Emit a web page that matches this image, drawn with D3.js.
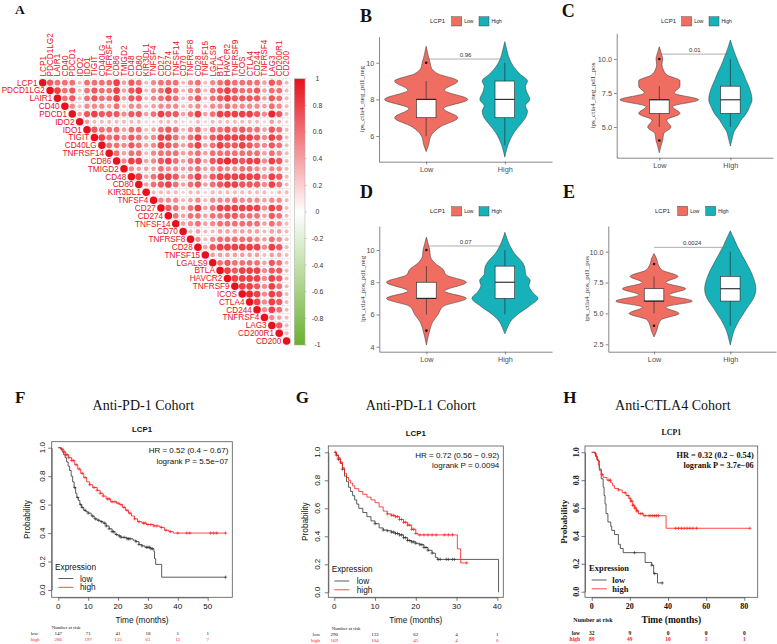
<!DOCTYPE html>
<html>
<head>
<meta charset="utf-8">
<script src="https://cdnjs.cloudflare.com/ajax/libs/d3/7.8.5/d3.min.js"></script>
<style>
body{margin:0;background:#fff}
svg{display:block}
</style>
</head>
<body>
<div id="chart"></div>
<script>
var sans = "'Liberation Sans', Arial, Helvetica, sans-serif";
var serif = "'Liberation Serif', 'Times New Roman', serif";

// ---------- A: correlation matrix ----------
var genes = ["LCP1","PDCD1LG2","LAIR1","CD40","PDCD1","IDO2","IDO1","TIGIT","CD40LG","TNFRSF14",
  "CD86","TMIGD2","CD48","CD80","KIR3DL1","TNFSF4","CD27","CD274","TNFSF14","CD70","TNFRSF8",
  "CD28","TNFSF15","LGALS9","BTLA","HAVCR2","TNFRSF9","ICOS","CTLA4","CD244","TNFRSF4","LAG3",
  "CD200R1","CD200"];
// upper triangle, right of the diagonal; each digit = r x 10
var corrRows = [
  "766636666847635666356356766664763",
  "86736766847835686356367876674663",
  "6736766847735676357367877774763",
  "535554635534555345355655554653",
  "47877757746877468468888875973",
  "4333333322333223233333332432",
  "766646634676356366767664763",
  "86757645886468478888875873",
  "6657645876468468778765763",
  "646635666456466666664653",
  "58845786467478987885873",
  "5444655456456556654553",
  "846887468478888885873",
  "46786467467887775863",
  "3333233233333333233",
  "555345355565554553",
  "76468468888885873",
  "6466466776664763",
  "456456666664653",
  "34334444443443",
  "5356666654653",
  "478888885873",
  "44444443443",
  "6766664763",
  "878885773",
  "88885873",
  "8875863",
  "985873",
  "85873",
  "5863",
  "543",
  "73",
  "3",
  ""
];
var legendTicks = [1, 0.8, 0.6, 0.4, 0.2, 0, -0.2, -0.4, -0.6, -0.8, -1];

// ---------- B-E: violins ----------
var groups = ["Low", "High"];
var violinColors = ["#EF6D61", "#17B1BA"];
// [value, relative density]
var densB = [
  [[5.15,0],[5.5,.07],[6,.14],[6.5,.42],[7,.95],[7.5,.52],[8,1.25],[8.5,.55],[9,.95],[9.4,.35],[9.7,.16],[10,.12],[10.4,.06],[10.9,0]],
  [[4.85,0],[5.3,.06],[5.8,.16],[6.2,.28],[6.6,.45],[7,.62],[7.35,.68],[7.65,.62],[8,.75],[8.4,.66],[8.7,.62],[9,.68],[9.4,.45],[9.8,.26],[10.2,.14],[10.7,.06],[11.15,0]]
];
var densC = [
  [[3.1,0],[3.6,.05],[4,.1],[4.5,.13],[5,.35],[5.5,.22],[6,.62],[6.5,.4],[7,1.18],[7.5,.45],[8,.62],[8.4,.62],[8.8,.25],[9.2,.12],[9.6,.08],[10,.1],[10.5,.05],[10.9,0]],
  [[3.6,0],[4.2,.06],[4.7,.12],[5,.2],[5.5,.32],[6,.48],[6.5,.58],[7,.65],[7.5,.62],[8,.55],[8.5,.46],[9,.38],[9.5,.28],[10,.2],[10.5,.12],[11,.05],[11.4,0]]
];
var densD = [
  [[4.1,0],[4.6,.05],[5,.1],[5.5,.18],[6,.35],[6.5,.5],[7,1.2],[7.45,.55],[8,1.2],[8.45,.6],[8.8,.5],[9.2,.25],[9.6,.12],[10,.1],[10.4,.05],[10.8,0]],
  [[4.8,0],[5.2,.08],[5.6,.18],[6,.38],[6.5,.72],[7,.99],[7.4,.82],[7.8,.72],[8.1,.76],[8.5,.62],[8.9,.6],[9.3,.5],[9.7,.32],[10,.22],[10.5,.1],[11.1,0]]
];
var densE = [
  [[3.1,0],[3.6,.08],[4,.12],[4.5,.22],[5,.75],[5.5,.35],[6,1.15],[6.5,.45],[7,.95],[7.5,.35],[8,.72],[8.5,.25],[9,.12],[9.4,.08],[9.85,0]],
  [[2.45,0],[3,.05],[3.5,.1],[4,.18],[4.5,.28],[5,.4],[5.5,.52],[6,.65],[6.5,.74],[7,.77],[7.5,.74],[8,.68],[8.5,.6],[9,.5],[9.5,.4],[10,.3],[10.5,.2],[11,.12],[11.4,.05],[11.7,0]]
];
// boxplot stats: lo whisker, q1, median, q3, hi whisker, outliers
var boxB = [{lo:6,q1:7,med:8,q3:8,hi:9,out:[10]}, {lo:5.5,q1:7,med:8,q3:9,hi:10,out:[]}];
var boxC = [{lo:5,q1:6,med:7,q3:7,hi:8,out:[10,4]}, {lo:5,q1:6,med:7,q3:8,hi:10,out:[]}];
var boxD = [{lo:6,q1:7,med:7,q3:8,hi:9,out:[10,5]}, {lo:6,q1:7,med:8,q3:9,hi:10,out:[]}];
var boxE = [{lo:5,q1:6,med:6,q3:7,hi:8,out:[9,4]}, {lo:4,q1:6,med:7,q3:8,hi:10,out:[]}];
var pvals = ["0.96", "0.01", "0.07", "0.0024"];
var pvalY = [10.2, 10.36, 10.25, 10.35];

// ---------- F-H: Kaplan-Meier ----------
var kmYTicks = [0, 0.2, 0.4, 0.6, 0.8, 1];
var fLow = [[0,1],[0.8,.99],[1.3,.97],[1.8,.95],[2.3,.93],[2.8,.9],[3.3,.87],[3.8,.84],[4.3,.8],[4.8,.76],[5.3,.72],[5.8,.68],[6.2,.65],[6.7,.63],[7.2,.6],[7.8,.58],[8.5,.56],[9.3,.55],[10,.54],[11,.52],[12,.5],[13,.49],[14,.48],[15,.47],[16,.45],[17,.43],[18,.41],[19,.39],[20,.38],[21,.37],[23,.36],[25,.35],[26,.34],[27,.32],[28,.31],[29,.3],[31,.29],[32,.27],[32.2,.22],[32.6,.18],[34.6,.09]];
var fHigh = [[0,1],[1,.99],[1.8,.97],[2.5,.95],[3.5,.93],[4.5,.91],[5.5,.88],[6.5,.85],[7.5,.82],[8.5,.79],[9.5,.76],[10.5,.74],[11.5,.72],[13,.7],[14,.68],[15,.66],[16,.64],[17.5,.62],[19.5,.61],[20.5,.6],[21.5,.58],[22.5,.56],[23.5,.54],[24.5,.52],[25.5,.5],[26.5,.48],[28,.47],[29.5,.46],[32,.45],[34,.44],[35.5,.42],[37,.41],[38.5,.4]];
var fLowCens = [5.5,6.5,7.5,8,9,10,11.5,12.5,13.5,14.5,15.5,16,17,18,18.5,19.5,20.5,21,22,23,23.5,24,26,27,28,29.5,30,30.5,31,31.5,56];
var fHighCens = [1.2,2,2.5,3,3.5,4.5,5,6,7,8,9,10.5,12,13,14,15,16.5,17,18,19,20,21,22,23,24,25.5,27,28.5,29,30,31,32,33,34.5,36,37.5,40,43,44,51,52,53,56];
var fRiskLow = [147, 71, 41, 18, 1, 1];
var fRiskHigh = [286, 197, 133, 61, 12, 7];

var gLow = [[0,1],[0.5,.98],[1,.95],[1.5,.92],[2,.88],[2.5,.83],[3,.79],[3.5,.75],[4,.72],[4.5,.69],[5,.66],[5.5,.63],[6,.6],[7,.57],[8,.54],[9,.51],[10,.49],[11,.46],[12,.445],[13,.44],[14,.43],[15,.42],[16,.41],[17,.39],[18,.37],[19,.36],[20,.35],[21,.34],[22,.32],[23,.3],[24,.28],[24.8,.25],[25.3,.235],[40.3,0]];
var gHigh = [[0,1],[0.5,.98],[1,.96],[1.5,.93],[2,.89],[2.5,.85],[3,.82],[3.5,.8],[4,.78],[4.5,.76],[5,.74],[6,.72],[7,.7],[8,.68],[9,.66],[10,.64],[11,.61],[12,.58],[13,.56],[14,.55],[15,.54],[16,.52],[17,.5],[18,.48],[19,.45],[20,.42],[20.5,.41],[30.2,.31],[31,.21]];
var gLowCens = [0.5,1,2,10,12,13,14,14.5,15,15.5,16,16.5,17,17.5,18,18.5,19,19.5,20,21,21.5,22,22.5,23,24,25.5,26,27.5,28,29,29.5];
var gHighCens = [0.3,1,1.5,13,14,14.5,15,15.5,16,16.5,17,17.5,18,18.5,19,19.5,20,21,22,23,24,25,27,28,29,32.5];
var gRiskLow = [290, 132, 62, 4, 1];
var gRiskHigh = [169, 104, 45, 4, 0];

var hLow = [[0,1],[2,.97],[3,.94],[4,.88],[5,.81],[6,.75],[6.5,.69],[7,.63],[7.5,.56],[8.5,.5],[10,.47],[10.5,.44],[12,.41],[14,.34],[15,.31],[16.5,.28],[28,.21],[31.5,.19],[32.5,.13],[34.5,.063]];
var hHigh = [[0,1],[1.5,.99],[2.5,.95],[3.5,.91],[4,.87],[5,.84],[6,.82],[8,.8],[10,.78],[11,.76],[12,.74],[14,.73],[16,.71],[18,.69],[19.5,.67],[20.5,.65],[21.5,.62],[22.5,.6],[23.5,.58],[24.5,.56],[27,.545],[39,.455]];
var hLowCens = [22.5,31.5,33,37];
var hHighCens = [5.5,9,9.8,14,17.5,19,20,20.5,21,21.5,22,22.5,23,23.5,24,25.5,26.5,28,30,31,32,33,34,35,44,45.5,47,48.5,50,51.5,53,55,83];
var hRiskLow = [32, 9, 0, 0, 0];
var hRiskHigh = [89, 49, 10, 1, 1];

var svg = d3.select("#chart").append("svg").attr("width", 777).attr("height", 644);
svg.append("rect").attr("width", 777).attr("height", 644).attr("fill", "#fff");

function letter(t, x, y, size) {
  svg.append("text").attr("x", x).attr("y", y).text(t)
    .attr("font-family", serif).attr("font-weight", "bold").attr("font-size", size).attr("fill", "#111");
}

// ================= A =================
letter("A", 15, 14, 13.5);
var xc = d3.scaleBand().domain(genes).range([39, 290.3]);
var yc = d3.scaleBand().domain(genes).range([78.8, 345]);
var corrColor = d3.scaleLinear().domain([-1, 0, 1]).range(["#6AB02E", "#ffffff", "#E8101A"]);

var cells = [];
genes.forEach(function(g, i) {
  cells.push({row: g, col: g, r: 1});
  corrRows[i].split("").forEach(function(ch, k) {
    cells.push({row: g, col: genes[i + 1 + k], r: +ch / 10});
  });
});

var gA = svg.append("g");
gA.selectAll("rect.cell").data(cells).enter().append("rect")
  .attr("x", function(d){ return xc(d.col); })
  .attr("y", function(d){ return yc(d.row); })
  .attr("width", xc.bandwidth()).attr("height", yc.bandwidth())
  .attr("fill", "#fff").attr("stroke", "#e2e2e2").attr("stroke-width", 0.5);
gA.selectAll("circle").data(cells).enter().append("circle")
  .attr("cx", function(d){ return xc(d.col) + xc.bandwidth() / 2; })
  .attr("cy", function(d){ return yc(d.row) + yc.bandwidth() / 2; })
  .attr("r", function(d){ return 3.75 * Math.sqrt(Math.abs(d.r)); })
  .attr("fill", function(d){ return corrColor(d.r); });

gA.selectAll("text.col").data(genes).enter().append("text")
  .attr("transform", function(d){ return "translate(" + (xc(d) + xc.bandwidth() / 2) + ",76.5) rotate(-90)"; })
  .attr("dy", "0.35em").text(function(d){ return d; })
  .attr("font-family", sans).attr("font-size", 8.2).attr("fill", "#E8101A");
gA.selectAll("text.row").data(genes).enter().append("text")
  .attr("x", function(d){ return xc(d) - 1.5; })
  .attr("y", function(d){ return yc(d) + yc.bandwidth() / 2; })
  .attr("dy", "0.35em").attr("text-anchor", "end").text(function(d){ return d; })
  .attr("font-family", sans).attr("font-size", 8.2).attr("fill", "#E8101A");

// colour legend
var grad = svg.append("defs").append("linearGradient").attr("id", "cbar")
  .attr("x1", 0).attr("y1", 1).attr("x2", 0).attr("y2", 0);
[-1, -0.5, 0, 0.5, 1].forEach(function(v) {
  grad.append("stop").attr("offset", (v + 1) / 2).attr("stop-color", corrColor(v));
});
var yLeg = d3.scaleLinear().domain([-1, 1]).range([345, 78.8]);
gA.append("rect").attr("x", 294.3).attr("y", 78.8).attr("width", 10.7).attr("height", 345 - 78.8)
  .attr("fill", "url(#cbar)").attr("stroke", "#aaa").attr("stroke-width", 0.5);
gA.selectAll("line.ct").data(legendTicks).enter().append("line")
  .attr("x1", 305).attr("x2", 306.6)
  .attr("y1", function(d){ return yLeg(d); }).attr("y2", function(d){ return yLeg(d); })
  .attr("stroke", "#888").attr("stroke-width", 0.5);
gA.selectAll("text.ct").data(legendTicks).enter().append("text")
  .attr("x", 317.5).attr("y", function(d){ return yLeg(d); }).attr("dy", "0.35em")
  .attr("text-anchor", "middle").text(function(d){ return String(Math.round(d * 10) / 10); })
  .attr("font-family", sans).attr("font-size", 6.8).attr("fill", "#333");

// ================= B-E violins =================
function drawViolin(p) {
  var g = svg.append("g");
  var x = d3.scalePoint().domain(groups).range([p.left, p.right]).padding(0.6);
  var y = d3.scaleLinear().domain(p.yDomain).range([p.bottom, p.top]);
  var w = d3.scaleLinear().domain([0, 1]).range([0, 33.3]);

  var ax = g.append("g").attr("transform", "translate(" + p.left + ",0)")
    .call(d3.axisLeft(y).tickValues(p.yTicks).tickFormat(p.fmt).tickSize(2.7).tickSizeOuter(0).tickPadding(2));
  var bx = g.append("g").attr("transform", "translate(0," + p.bottom + ")")
    .call(d3.axisBottom(x).tickSize(2.7).tickSizeOuter(0).tickPadding(2));
  [ax, bx].forEach(function(a) {
    a.attr("color", "#555");
    a.selectAll("path,line").attr("stroke-width", 0.7);
    a.selectAll("text").attr("font-family", sans).attr("font-size", 7.3).attr("fill", "#4d4d4d");
  });

  g.append("text").attr("transform", "translate(" + p.ylabX + "," + ((p.top + p.bottom) / 2) + ") rotate(-90)")
    .attr("text-anchor", "middle").text(p.ylab)
    .attr("font-family", serif).attr("font-size", 7).attr("fill", "#333");

  groups.forEach(function(grp, k) {
    var cx = x(grp);
    var pts = p.dens[k].slice().sort(function(a, b){ return b[0] - a[0]; });
    var area = d3.area().curve(d3.curveMonotoneY)
      .y(function(d){ return y(d[0]); })
      .x0(function(d){ return cx - w(d[1]); })
      .x1(function(d){ return cx + w(d[1]); });
    g.append("path").attr("d", area(pts)).attr("fill", violinColors[k])
      .attr("stroke", "#333").attr("stroke-width", 0.5);
    var b = p.box[k];
    g.append("line").attr("x1", cx).attr("x2", cx).attr("y1", y(b.lo)).attr("y2", y(b.hi))
      .attr("stroke", "#222").attr("stroke-width", 0.6);
    g.append("rect").attr("x", cx - 9.8).attr("width", 19.6)
      .attr("y", y(b.q3)).attr("height", y(b.q1) - y(b.q3))
      .attr("fill", "#fff").attr("stroke", "#222").attr("stroke-width", 0.6);
    g.append("line").attr("x1", cx - 9.8).attr("x2", cx + 9.8).attr("y1", y(b.med)).attr("y2", y(b.med))
      .attr("stroke", "#222").attr("stroke-width", 1.1);
    g.selectAll(null).data(b.out).enter().append("circle")
      .attr("cx", cx).attr("cy", function(d){ return y(d); }).attr("r", 1.3).attr("fill", "#111");
  });

  var py = y(p.pY);
  g.append("line").attr("x1", x("Low")).attr("x2", x("High")).attr("y1", py).attr("y2", py)
    .attr("stroke", "#777").attr("stroke-width", 0.6);
  g.append("text").attr("x", (x("Low") + x("High")) / 2).attr("y", py - 2).attr("text-anchor", "middle")
    .text(p.pText).attr("font-family", sans).attr("font-size", 6).attr("fill", "#333");

  // legend
  var L = p.leg;
  g.append("text").attr("x", L.title).attr("y", L.y + 6.5).text("LCP1")
    .attr("font-family", sans).attr("font-size", 6).attr("fill", "#222");
  groups.forEach(function(grp, k) {
    g.append("rect").attr("x", L.keys[k]).attr("y", L.y).attr("width", 10).attr("height", 9.3)
      .attr("fill", violinColors[k]).attr("stroke", "#333").attr("stroke-width", 0.4);
    g.append("text").attr("x", L.keys[k] + 12.5).attr("y", L.y + 6.5).text(grp)
      .attr("font-family", sans).attr("font-size", 5).attr("fill", "#222");
  });
}

letter("B", 360, 21.7, 18);
drawViolin({left:379, right:552, top:36.7, bottom:161.7, yDomain:[4.6, 11.42], yTicks:[6, 8, 10],
  fmt: d3.format("d"), ylab:"ips_ctla4_neg_pd1_neg", ylabX:363.5, dens:densB, box:boxB,
  pY:pvalY[0], pText:pvals[0], leg:{title:430, keys:[451.7, 479], y:16.7}});
letter("C", 561.7, 17.3, 18);
drawViolin({left:616.7, right:773, top:33.3, bottom:157.7, yDomain:[2.74, 11.89], yTicks:[5, 7.5, 10],
  fmt: d3.format(".1f"), ylab:"ips_ctla4_neg_pd1_pos", ylabX:595, dens:densC, box:boxC,
  pY:pvalY[1], pText:pvals[1], leg:{title:661, keys:[681.7, 709], y:16.7}});
letter("D", 360, 198.3, 18);
drawViolin({left:379.3, right:552, top:226, bottom:351.7, yDomain:[3.69, 11.49], yTicks:[4, 6, 8, 10],
  fmt: d3.format("d"), ylab:"ips_ctla4_pos_pd1_neg", ylabX:365, dens:densD, box:boxD,
  pY:pvalY[2], pText:pvals[2], leg:{title:430, keys:[451.7, 479], y:206.7}});
letter("E", 563, 198.3, 18);
drawViolin({left:608.3, right:776, top:226, bottom:351.7, yDomain:[1.9, 12.08], yTicks:[2.5, 5, 7.5, 10],
  fmt: d3.format(".1f"), ylab:"ips_ctla4_pos_pd1_pos", ylabX:588.5, dens:densE, box:boxE,
  pY:pvalY[3], pText:pvals[3], leg:{title:655, keys:[677.7, 705.7], y:206.3}});

// ================= F-H Kaplan-Meier =================
function survAt(steps, t) {
  var s = 1;
  steps.forEach(function(d){ if (d[0] <= t) s = d[1]; });
  return s;
}

function drawKM(p) {
  var g = svg.append("g");
  var font = p.bold ? serif : sans, fw = p.bold ? "bold" : "normal";
  var x = d3.scaleLinear().domain([0, p.xTicks[p.xTicks.length - 1]]).range(p.xRange);
  var y = d3.scaleLinear().domain([0, 1]).range(p.yRange);
  function txt(s, tx, ty, size, anchor, col, rot) {
    var t = g.append("text").text(s).attr("font-family", font).attr("font-weight", fw)
      .attr("font-size", size).attr("fill", col || "#111").attr("text-anchor", anchor || "middle");
    if (rot) t.attr("transform", "translate(" + tx + "," + ty + ") rotate(-90)");
    else t.attr("x", tx).attr("y", ty);
    return t;
  }

  txt(p.title, p.titleX, 410, 14, "middle", "#111").attr("font-family", serif).attr("font-weight", "normal");
  txt("LCP1", (p.box[0] + p.box[2]) / 2, p.geneY, 7.8, "middle", "#111")
    .attr("font-family", p.bold ? serif : sans).attr("font-weight", "bold");

  g.append("rect").attr("x", p.box[0]).attr("y", p.box[1])
    .attr("width", p.box[2] - p.box[0]).attr("height", p.box[3] - p.box[1])
    .attr("fill", "none").attr("stroke", "#555").attr("stroke-width", 0.8);
  var ax = g.append("g").attr("transform", "translate(0," + p.box[3] + ")")
    .call(d3.axisBottom(x).tickValues(p.xTicks).tickSize(3.5).tickSizeOuter(0).tickFormat(""));
  var ay = g.append("g").attr("transform", "translate(" + p.box[0] + ",0)")
    .call(d3.axisLeft(y).tickValues(kmYTicks).tickSize(3.5).tickSizeOuter(0).tickFormat(""));
  [ax, ay].forEach(function(a){ a.attr("color", "#555"); a.selectAll("path,line").attr("stroke-width", 0.8); });

  p.xTicks.forEach(function(t){ txt(String(t), x(t), p.box[3] + 12, 8, "middle"); });
  kmYTicks.forEach(function(v){ txt(d3.format(".1f")(v), p.yLabX, y(v), 8, "middle", "#111", true); });
  txt("Time (months)", (p.box[0] + p.box[2]) / 2, p.box[3] + 25.5, p.bold ? 9.5 : 8.3, "middle");
  txt("Probability", p.probX, (p.box[1] + p.box[3]) / 2, p.bold ? 9.2 : 8.3, "middle", "#111", true);

  txt(p.hr, p.box[2] - 4, p.box[1] + 11.5, p.bold ? 8.3 : 8, "end");
  txt(p.lr, p.box[2] - 4, p.box[1] + 22, p.bold ? 8.3 : 8, "end");

  var series = [[p.low, p.lowEnd, p.lowCens, "#333"], [p.high, p.highEnd, p.highCens, "#ff1a1a"]];
  var line = d3.line().curve(d3.curveStepAfter).x(function(d){ return x(d[0]); }).y(function(d){ return y(d[1]); });
  series.forEach(function(s) {
    var pts = s[0].concat([[s[1], s[0][s[0].length - 1][1]]]);
    g.append("path").attr("d", line(pts)).attr("fill", "none").attr("stroke", s[3]).attr("stroke-width", 0.8);
    g.append("path").attr("d", s[2].map(function(t) {
      var cx = x(t), cy = y(survAt(s[0], t));
      return "M" + (cx - 1.7) + "," + cy + "H" + (cx + 1.7) + "M" + cx + "," + (cy - 1.7) + "V" + (cy + 1.7);
    }).join("")).attr("stroke", s[3]).attr("stroke-width", 0.6).attr("fill", "none");
  });

  // legend
  var lg = p.legend;
  txt("Expression", lg.x, lg.y, p.bold ? 8.5 : 8.3, "start");
  [["low", "#333"], ["high", "#ff1a1a"]].forEach(function(e, k) {
    var ly = lg.y + 9 + k * 8.8;
    g.append("line").attr("x1", lg.lx).attr("x2", lg.lx + 15).attr("y1", ly).attr("y2", ly)
      .attr("stroke", e[1]).attr("stroke-width", 0.8);
    txt(e[0], lg.tx, ly + 3, p.bold ? 8.5 : 8.3, "start");
  });

  // numbers at risk
  txt("Number at risk", p.risk.nx, p.risk.ny, p.bold ? 6 : 4.8, "start").attr("font-family", serif);
  [[p.riskLow, "low", "#111"], [p.riskHigh, "high", "#ff1a1a"]].forEach(function(r, k) {
    var ry = p.risk.y + k * 6.5;
    txt(r[1], p.risk.lx, ry, p.bold ? 5.5 : 5, p.risk.anchor, r[2]).attr("font-family", serif);
    r[0].forEach(function(n, i) {
      txt(String(n), x(p.xTicks[i]), ry, p.bold ? 5.5 : 5, "middle", r[2]).attr("font-family", serif);
    });
  });
}

letter("F", 15, 402.7, 17);
drawKM({title:"Anti-PD-1 Cohort", titleX:143.3, geneY:431.7, box:[51.7, 441.7, 232.3, 597.3],
  xTicks:[0, 10, 20, 30, 40, 50], xRange:[58.3, 207.7], yRange:[590, 447.7],
  yLabX:44.6, probX:30.2, hr:"HR = 0.52 (0.4 \u2212 0.67)", lr:"logrank P = 5.5e\u221207",
  low:fLow, lowEnd:56, lowCens:fLowCens, high:fHigh, highEnd:56, highCens:fHighCens,
  legend:{x:55, y:569.5, lx:58.3, tx:80}, riskLow:fRiskLow, riskHigh:fRiskHigh,
  risk:{nx:51.7, ny:629, lx:30.7, anchor:"start", y:634.8}});

letter("G", 295.7, 402.7, 17);
drawKM({title:"Anti-PD-L1 Cohort", titleX:420.8, geneY:435.7, box:[328.3, 446, 503.3, 597.3],
  xTicks:[0, 10, 20, 30, 40], xRange:[334.3, 497.3], yRange:[592.3, 452.3],
  yLabX:319.6, probX:308, hr:"HR = 0.72 (0.56 \u2212 0.92)", lr:"logrank P = 0.0094",
  low:gLow, lowEnd:40.3, lowCens:gLowCens, high:gHigh, highEnd:32.5, highCens:gHighCens,
  legend:{x:331.7, y:572, lx:334.3, tx:356.7}, riskLow:gRiskLow, riskHigh:gRiskHigh,
  risk:{nx:331.7, ny:629.5, lx:320, anchor:"end", y:635.5}});

letter("H", 563.3, 402.7, 17);
drawKM({title:"Anti-CTLA4 Cohort", titleX:672.8, geneY:435, box:[585, 446, 757.7, 597.3], bold:true,
  xTicks:[0, 20, 40, 60, 80], xRange:[591.7, 744.3], yRange:[591.7, 452.3],
  yLabX:578.8, probX:566.5, hr:"HR = 0.32 (0.2 \u2212 0.54)", lr:"logrank P = 3.7e\u221206",
  low:hLow, lowEnd:37, lowCens:hLowCens, high:hHigh, highEnd:83, highCens:hHighCens,
  legend:{x:589, y:571, lx:591.7, tx:612.3}, riskLow:hRiskLow, riskHigh:hRiskHigh,
  risk:{nx:573.3, ny:622, lx:580, anchor:"end", y:634.5}});
</script>
</body>
</html>
